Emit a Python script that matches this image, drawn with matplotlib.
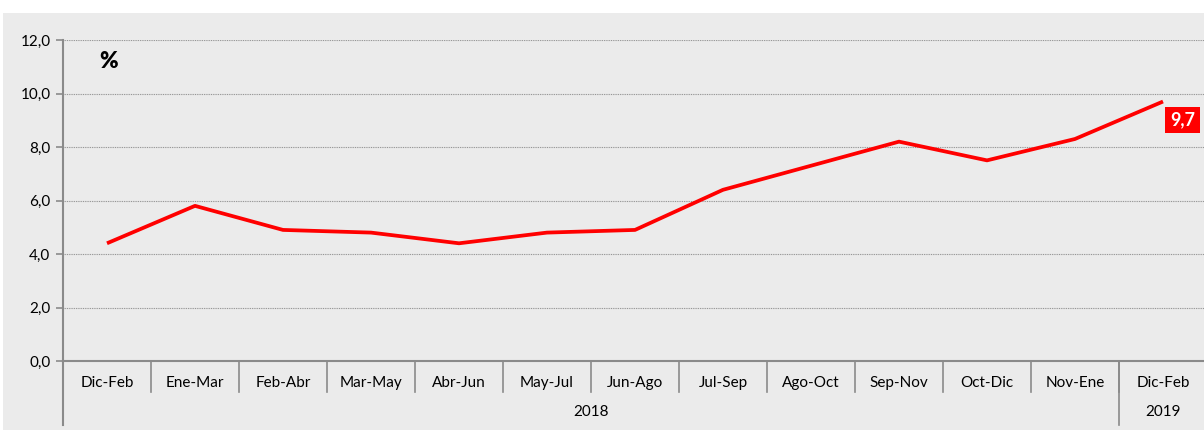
import matplotlib.pyplot as plt
from matplotlib.ticker import FuncFormatter, MultipleLocator
from matplotlib.patches import Rectangle
import matplotlib.transforms as mtransforms

plt.rcParams['font.family'] = ['Lato', 'DejaVu Sans']

periods = ["Dic-Feb", "Ene-Mar", "Feb-Abr", "Mar-May", "Abr-Jun", "May-Jul", "Jun-Ago",
           "Jul-Sep", "Ago-Oct", "Sep-Nov", "Oct-Dic", "Nov-Ene", "Dic-Feb"]
values = [4.4, 5.8, 4.9, 4.8, 4.4, 4.8, 4.9, 6.4, 7.3, 8.2, 7.5, 8.3, 9.7]
years = ["2018", "2019"]
year_counts = [12, 1]

bg = "#ebebeb"
axis_col = "#8a8a8a"

fig = plt.figure(figsize=(12.04, 4.30), dpi=100, facecolor="white")
bg_rect = Rectangle((3 / 1204, 0), 1, 1 - 13 / 430, transform=fig.transFigure,
                    facecolor=bg, edgecolor="none", zorder=-10)
fig.add_artist(bg_rect)

ax = fig.add_axes([63 / 1204, 1 - 361 / 430, 1144 / 1204, 321 / 430])
ax.set_facecolor(bg)

x = list(range(len(periods)))
ax.plot(x, values, color="#ff0000", lw=2.7, solid_capstyle="butt", zorder=3)

ax.set_xlim(-0.5, len(periods) - 0.5)
ax.set_ylim(0, 12)
ax.yaxis.set_major_locator(MultipleLocator(2))
ax.yaxis.set_major_formatter(FuncFormatter(lambda v, p: f"{v:.1f}".replace(".", ",")))
ax.grid(axis="y", color="#8c8c8c", linestyle=(0, (0.8, 0.8)), lw=0.8)
ax.set_axisbelow(True)

for s in ["top", "right"]:
    ax.spines[s].set_visible(False)
for s in ["left", "bottom"]:
    ax.spines[s].set_color(axis_col)
    ax.spines[s].set_linewidth(1.5)

ax.tick_params(axis="y", length=5, width=1.2, color=axis_col, labelsize=11, pad=4)
ax.set_xticks(x)
ax.set_xticklabels(periods, fontsize=11)
ax.tick_params(axis="x", length=0, pad=11)

trans = mtransforms.blended_transform_factory(ax.transData, ax.transAxes)
short = -31 / 321
tall = -64 / 321
for k in range(1, len(periods)):
    ax.plot([k - 0.5, k - 0.5], [0, short], color=axis_col, lw=1.2,
            transform=trans, clip_on=False)
ax.plot([-0.5, -0.5], [0, tall], color=axis_col, lw=1.5, transform=trans, clip_on=False)

start = 0
for yr, n in zip(years, year_counts):
    ax.text(start + (n - 1) / 2, -51 / 321, yr, transform=trans, ha="center",
            va="center", fontsize=11)
    start += n
    if start < len(periods):
        ax.plot([start - 0.5, start - 0.5], [0, tall], color=axis_col, lw=1.2,
                transform=trans, clip_on=False)

ax.text(0.02, 11.2, "%", fontsize=16, fontweight="heavy", ha="center", va="center")

ax.annotate(f"{values[-1]:.1f}".replace(".", ","), xy=(x[-1], values[-1]),
            xytext=(7, -10), textcoords="offset pixels", ha="left", va="top",
            color="white", fontsize=13, fontweight="bold",
            bbox=dict(boxstyle="square,pad=0.25", facecolor="#ff0000", edgecolor="none"))

fig.savefig("out.png", dpi=100, facecolor=fig.get_facecolor())
